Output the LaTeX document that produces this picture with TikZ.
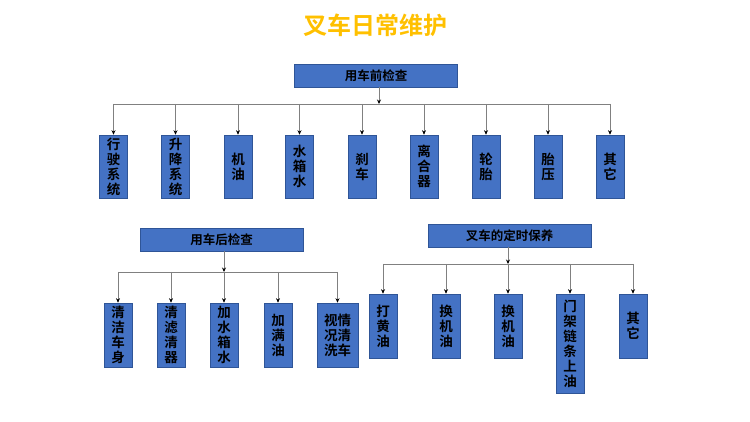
\documentclass[tikz,border=0pt]{standalone}
\usepackage{fontspec}
\setmainfont{Noto Sans CJK SC}
\newfontfamily\cjkb{Noto Sans CJK SC Bold}
\usetikzlibrary{arrows.meta}
\definecolor{boxfill}{HTML}{4472C4}
\definecolor{boxline}{HTML}{2F5597}
\definecolor{titlec}{HTML}{FFC000}
\definecolor{linec}{HTML}{808080}
\tikzset{
  headbox/.style={draw=boxline, fill=boxfill, line width=0.6pt, minimum width=163pt, minimum height=23pt, inner sep=0pt, font=\cjkb\fontsize{12.5}{14}\selectfont},
  leafbox/.style={draw=boxline, fill=boxfill, line width=0.6pt, minimum width=28pt, inner sep=0pt, align=center, font=\cjkb\fontsize{13.5}{15}\selectfont},
  busline/.style={draw=linec, line width=0.7pt},
  conn/.style={draw=linec, line width=0.7pt, -{Stealth[length=4.5pt,width=4pt,color=black]}},
}
\begin{document}
\begin{tikzpicture}[x=1pt,y=-1pt]
\useasboundingbox (0,0) rectangle (750,422);
\node[font=\cjkb\fontsize{24}{26}\selectfont, text=titlec] (title) at (375,25) {叉车日常维护};

% Row 1
\node[headbox] (P1) at (376,75.5) {用车前检查};
\coordinate (bus1) at (379,104);
\foreach \n/\x/\t in {a1/113.5/行\\驶\\系\\统, a2/175.5/升\\降\\系\\统, a3/238/机\\油, a4/299.5/水\\箱\\水, a5/362/刹\\车, a6/424/离\\合\\器, a7/486/轮\\胎, a8/548/胎\\压, a9/610/其\\它}{
  \node[leafbox, minimum height=63pt] (\n) at (\x,166.5) {\t};
}
\draw[conn] (bus1 |- P1.south) -- (bus1);
\draw[busline] (a1 |- bus1) -- (a9 |- bus1);
\foreach \n in {a1,a2,a3,a4,a5,a6,a7,a8,a9}{
  \draw[conn] (\n |- bus1) -- (\n.north);
}

% Row 2 left
\node[headbox] (P2) at (221.5,239.5) {用车后检查};
\coordinate (bus2) at (224,272);
\foreach \n/\x/\t in {b1/118/清\\洁\\车\\身, b2/171/清\\滤\\清\\器, b3/224/加\\水\\箱\\水, b4/278/加\\满\\油}{
  \node[leafbox, minimum height=64pt] (\n) at (\x,335) {\t};
}
\node[leafbox, minimum height=64pt, minimum width=41pt] (b5) at (337.5,335) {视情\\况清\\洗车};
\draw[conn] (bus2 |- P2.south) -- (bus2);
\draw[busline] (b1 |- bus2) -- (b5 |- bus2);
\foreach \n in {b1,b2,b3,b4,b5}{
  \draw[conn] (\n |- bus2) -- (\n.north);
}

% Row 2 right
\node[headbox] (P3) at (509.5,235.5) {叉车的定时保养};
\coordinate (bus3) at (508,264);
\foreach \n/\x/\t in {c1/383/打\\黄\\油, c2/446/换\\机\\油, c3/508/换\\机\\油, c5/633/其\\它}{
  \node[leafbox, minimum height=64pt] (\n) at (\x,326) {\t};
}
\node[leafbox, minimum height=99pt] (c4) at (570,343.5) {门\\架\\链\\条\\上\\油};
\draw[conn] (bus3 |- P3.south) -- (bus3);
\draw[busline] (c1 |- bus3) -- (c5 |- bus3);
\foreach \n in {c1,c2,c3,c4,c5}{
  \draw[conn] (\n |- bus3) -- (\n.north);
}
\end{tikzpicture}
\end{document}
